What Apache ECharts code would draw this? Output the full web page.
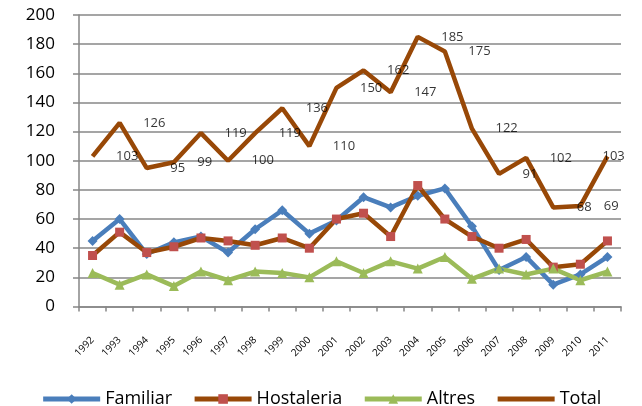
<!DOCTYPE html>
<html>
<head>
<meta charset="utf-8">
<script src="https://cdn.jsdelivr.net/npm/echarts@6/dist/echarts.min.js"></script>
<style>
html,body{margin:0;padding:0;background:#fff;}
#chart{width:642px;height:406px;}
</style>
</head>
<body>
<div id="chart"></div>
<script>
var years = ['1992','1993','1994','1995','1996','1997','1998','1999','2000','2001','2002','2003','2004','2005','2006','2007','2008','2009','2010','2011'];
var familiar = [45,60,36,44,48,37,53,66,50,59,75,68,76,81,55,25,34,15,22,34];
var hostaleria = [35,51,37,41,47,45,42,47,40,60,64,48,83,60,48,40,46,27,29,45];
var altres = [23,15,22,14,24,18,24,23,20,31,23,31,26,34,19,26,22,26,18,24];
var total = [103,126,95,99,119,100,119,136,110,150,162,147,185,175,122,91,102,68,69,103];
var yTicks = {min:0, max:200, interval:20};

var FONT = '"Open Sans", "Liberation Sans", sans-serif';
var brown = '#984807';

var labelData = total.map(function(v, i){
  if (i === total.length - 1) {
    return {value: v, label: {distance: -5}};
  }
  return v;
});

var chart = echarts.init(document.getElementById('chart'));
chart.setOption({
  animation: false,
  backgroundColor: '#ffffff',
  grid: {left: 79, right: 21, top: 15, bottom: 99.5, containLabel: false},
  xAxis: {
    type: 'category',
    data: years,
    boundaryGap: true,
    axisLine: {lineStyle: {color: '#868686', width: 1.5}},
    axisTick: {show: true, length: 5, lineStyle: {color: '#868686', width: 1.5}},
    axisLabel: {rotate: 45, fontSize: 10, fontFamily: FONT, color: '#000', margin: 32, interval: 0}
  },
  yAxis: {
    type: 'value',
    min: yTicks.min, max: yTicks.max, interval: yTicks.interval,
    axisLine: {show: true, lineStyle: {color: '#868686', width: 1.5}},
    axisTick: {show: true, length: 6, lineStyle: {color: '#868686', width: 1.5}},
    axisLabel: {fontSize: 17, fontFamily: FONT, color: '#000', margin: 24},
    splitLine: {lineStyle: {color: '#878787', width: 1.5}}
  },
  legend: {
    data: ['Familiar','Hostaleria','Altres',{name: 'Total', itemStyle: {opacity: 0}}],
    left: 'center',
    top: 385,
    itemWidth: 57,
    itemHeight: 12,
    itemGap: 20,
    lineStyle: {width: 5},
    textStyle: {fontSize: 18, fontFamily: FONT, color: '#000'}
  },
  series: [
    {
      name: 'Familiar', type: 'line', data: familiar,
      symbol: 'diamond', symbolSize: 10, showSymbol: true,
      lineStyle: {color: '#4A7EBB', width: 4.5},
      itemStyle: {color: '#4A7EBB'}
    },
    {
      name: 'Hostaleria', type: 'line', data: hostaleria,
      symbol: 'rect', symbolSize: 9,
      lineStyle: {color: brown, width: 4.5},
      itemStyle: {color: '#C0504D'}
    },
    {
      name: 'Altres', type: 'line', data: altres,
      symbol: 'triangle', symbolSize: 10,
      lineStyle: {color: '#9BBB59', width: 4.5},
      itemStyle: {color: '#9BBB59'}
    },
    {
      name: 'Total', type: 'line', data: total,
      symbol: 'none',
      lineStyle: {color: brown, width: 4.5},
      itemStyle: {color: brown}
    },
    {
      name: 'TotalLabels', type: 'scatter', data: labelData,
      symbolSize: 0, silent: true, z: 10,
      label: {show: true, position: 'right', distance: 23.5, fontSize: 13, fontFamily: FONT, color: '#000'}
    }
  ]
});
</script>
</body>
</html>
